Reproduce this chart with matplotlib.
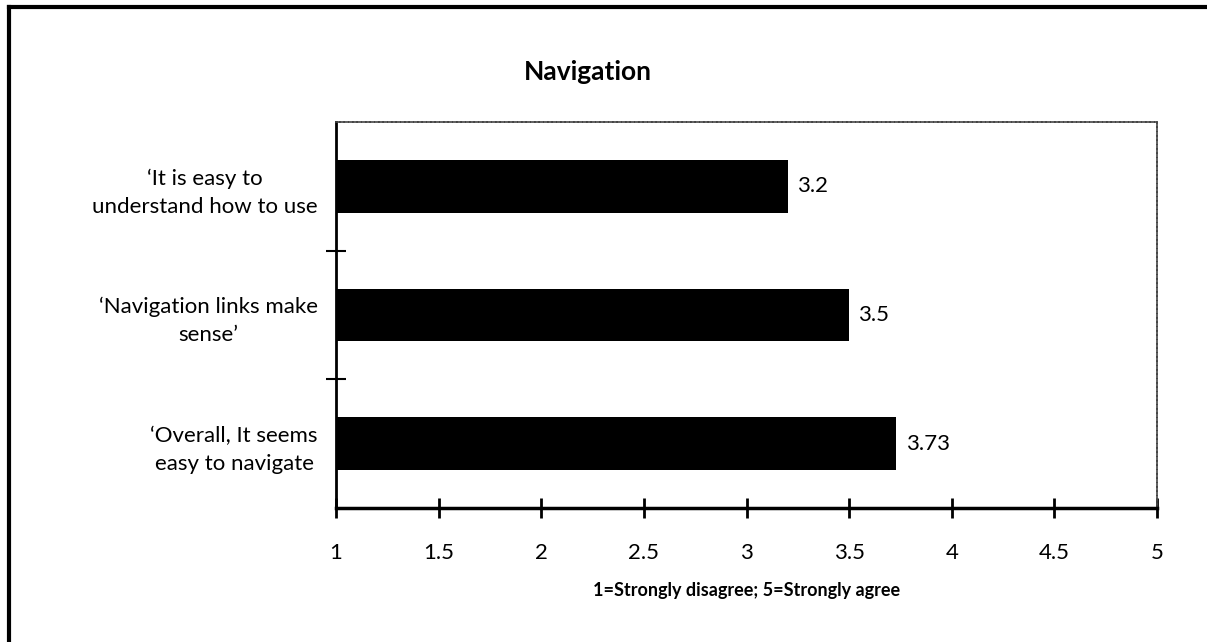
import numpy as np
import matplotlib
matplotlib.use("Agg")
import matplotlib.pyplot as plt
from matplotlib.lines import Line2D

# Data
labels = ["\u2018It is easy to\nunderstand how to use",
          "\u2018Navigation links make\nsense\u2019",
          "\u2018Overall, It seems\neasy to navigate"]
values = [3.2, 3.5, 3.73]
xticks = [1, 1.5, 2, 2.5, 3, 3.5, 4, 4.5, 5]
xtick_labels = ["1", "1.5", "2", "2.5", "3", "3.5", "4", "4.5", "5"]

plt.rcParams['font.family'] = ['Lato', 'DejaVu Sans']

W, H = 1207, 642
fig = plt.figure(figsize=(W / 100, H / 100), dpi=100)
ax = fig.add_axes([336 / W, 1 - 508 / H, (1157 - 336) / W, (508 - 122) / H])

pos = np.arange(len(values))
ax.barh(pos, np.array(values) - 1, left=1, height=0.41, color="black")
for p, v in zip(pos, values):
    ax.text(v + 0.045, p, f"{v:g}", va="center", ha="left", fontsize=16)

ax.set_xlim(1, 5)
ax.set_ylim(len(values) - 0.5, -0.5)
ax.set_xticks(xticks)
ax.set_xticklabels(xtick_labels, fontsize=16)
ax.set_yticks(pos)
ax.set_yticklabels(labels, fontsize=16, multialignment="center", linespacing=1.5)
ax.tick_params(axis="y", length=0, pad=13)
ax.set_yticks([0.5, 1.5], minor=True)
ax.tick_params(axis="y", which="minor", length=14, width=1.5, direction="inout")
ax.tick_params(axis="x", length=14, width=2, direction="inout", pad=18)

ax.spines["left"].set_linewidth(2)
ax.spines["bottom"].set_linewidth(2.5)
for s in ["top", "right"]:
    ax.spines[s].set_linewidth(1.2)
    ax.spines[s].set_color("#444444")
    ax.spines[s].set_linestyle((0, (2, 0.6)))

ax.set_xlabel("1=Strongly disagree; 5=Strongly agree", fontsize=13,
              fontweight="bold", labelpad=14)
fig.text(588 / W, 1 - 72 / H, "Navigation", ha="center", va="center",
         fontsize=19, fontweight="bold")

# outer frame (only top and left edges visible in the crop)
fig.add_artist(Line2D([9 / W, 1.0], [1 - 7 / H, 1 - 7 / H], color="black", lw=3,
                      transform=fig.transFigure))
fig.add_artist(Line2D([9 / W, 9 / W], [1 - 7 / H, 0], color="black", lw=3,
                      transform=fig.transFigure))

fig.savefig("out.png", dpi=100, facecolor="white")
